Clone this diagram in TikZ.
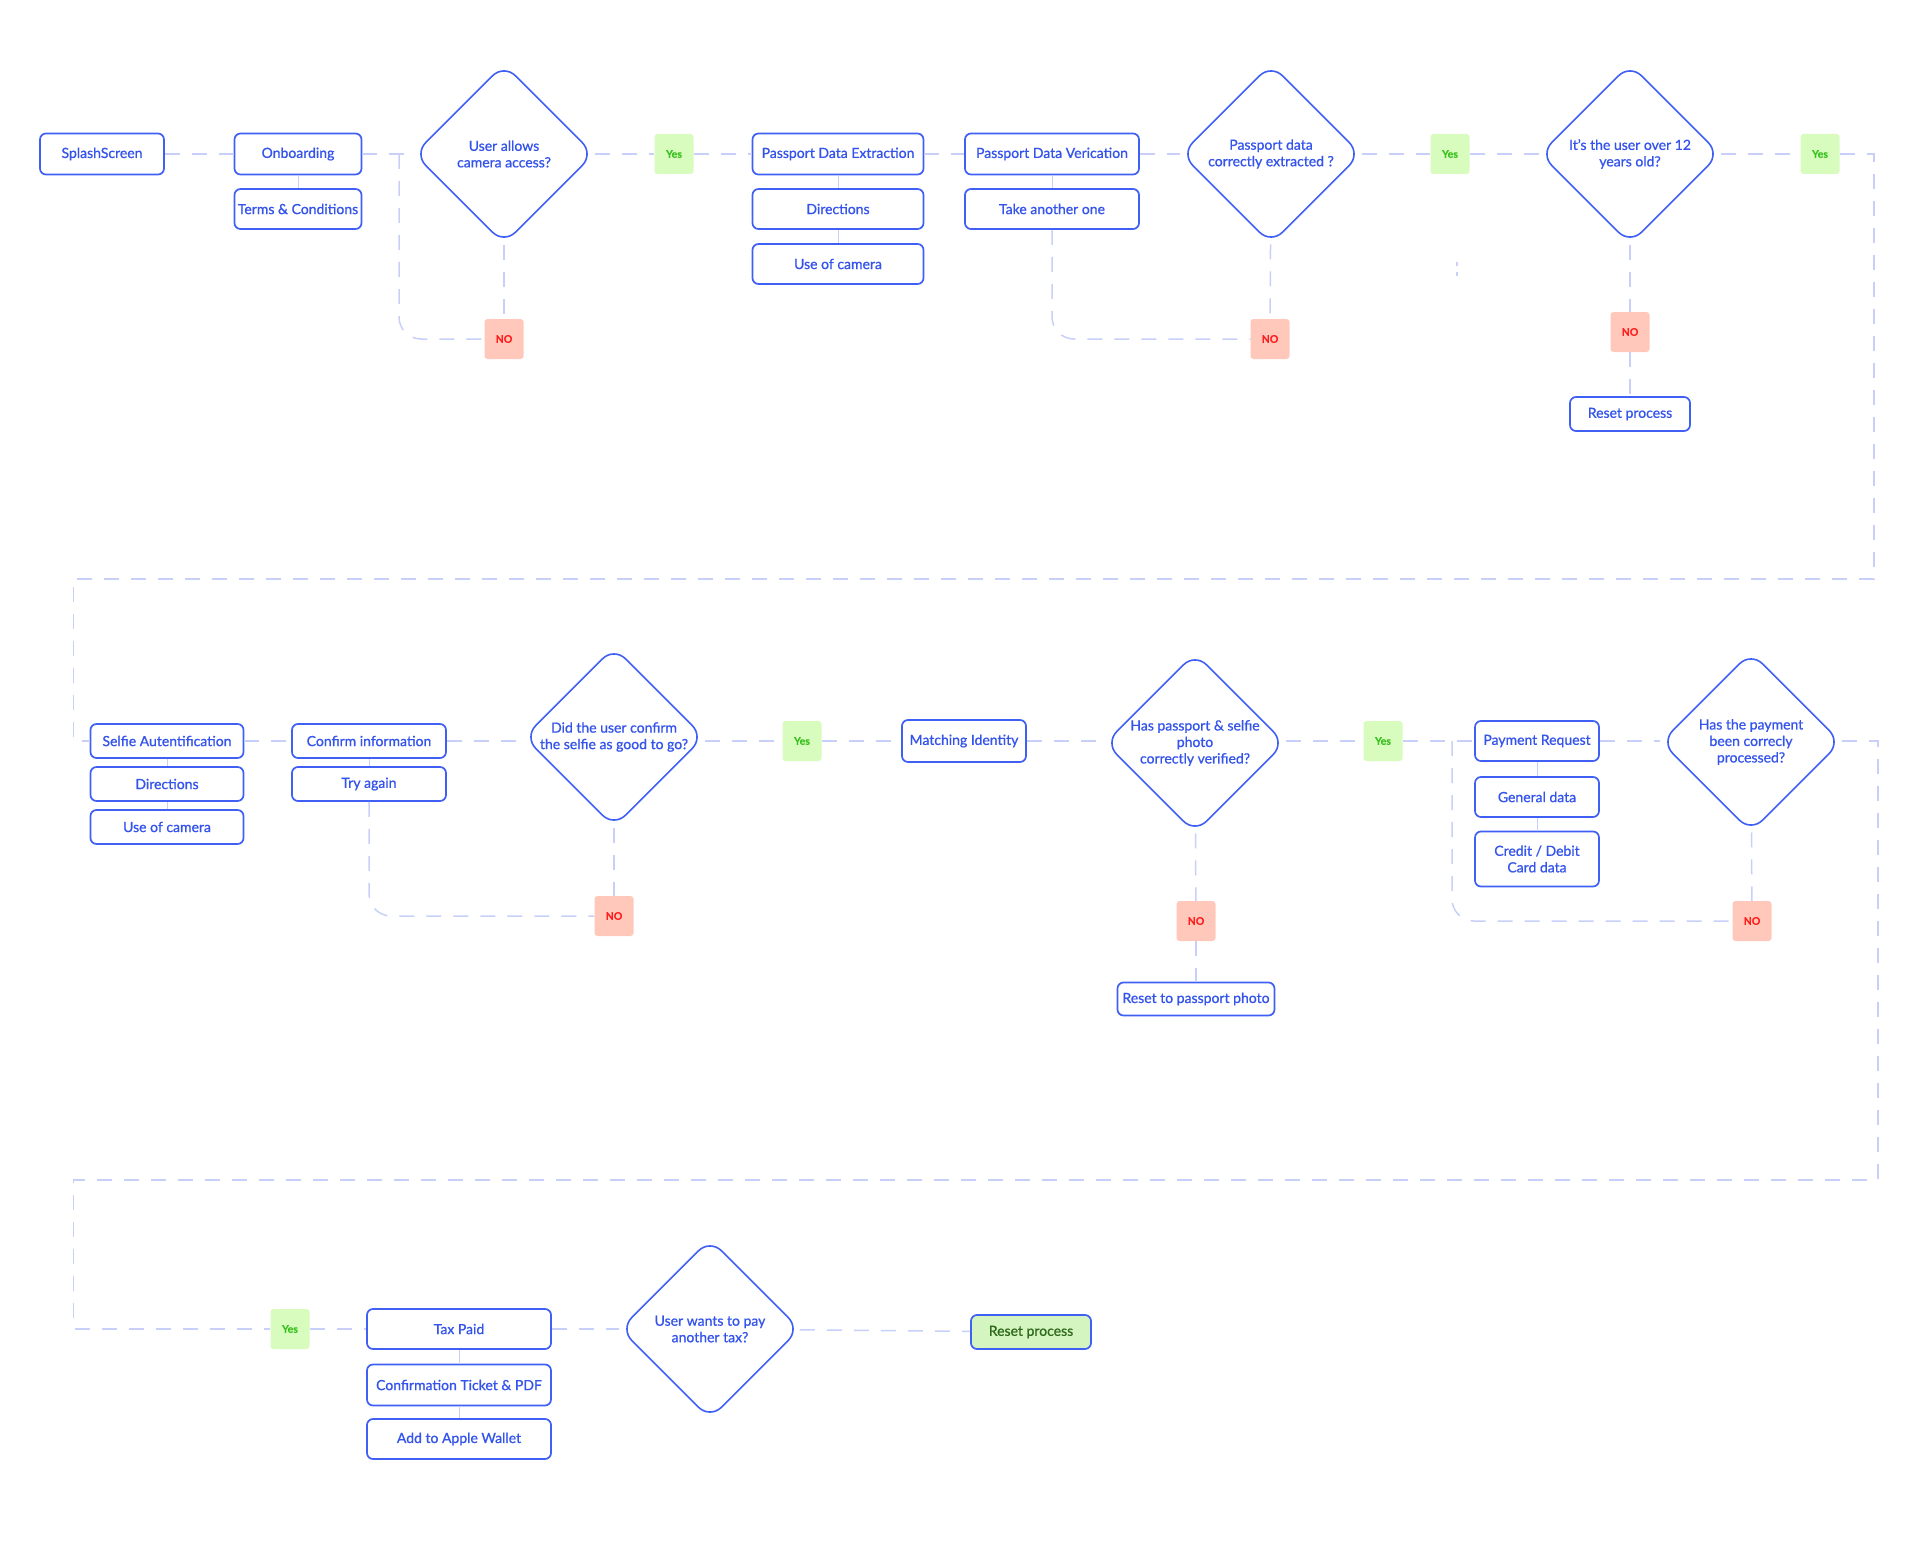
\documentclass[tikz,border=0pt]{standalone}
\usepackage{fontspec}
\setmainfont{Lato}[FakeBold=0.9]
\newfontfamily\tagfont{Lato}[FakeBold=0.3]
\usetikzlibrary{shapes.geometric}
\definecolor{bblue}{RGB}{64,96,245}
\definecolor{tblue}{RGB}{52,84,236}
\definecolor{dashc}{RGB}{200,208,250}
\definecolor{yesfill}{RGB}{216,251,190}
\definecolor{yestext}{RGB}{56,194,29}
\definecolor{nofill}{RGB}{255,200,186}
\definecolor{notext}{RGB}{255,30,30}
\definecolor{rfill}{RGB}{213,245,192}
\definecolor{rtext}{RGB}{47,106,26}
\definecolor{shadc}{RGB}{238,240,253}
\tikzset{
  base/.style={font=\fontsize{14}{16.5}\selectfont, text=tblue},
  box/.style={base, draw=bblue, line width=1.7pt, rounded corners=6pt, fill=white,
    minimum height=41, inner sep=2pt, align=center},
  dia/.style={base, shape=diamond, aspect=1, draw=bblue, line width=1.6pt, rounded corners=16pt,
    fill=white, minimum width=180, minimum height=180, inner sep=0pt, align=center},
  yestag/.style={fill=yesfill, text=yestext, font=\tagfont\bfseries\fontsize{10.5}{12}\selectfont,
    minimum width=39, minimum height=40, rounded corners=3pt, inner sep=0pt},
  notag/.style={fill=nofill, text=notext, font=\tagfont\bfseries\fontsize{10.5}{12}\selectfont,
    minimum width=39, minimum height=40, rounded corners=3pt, inner sep=0pt},
  conn/.style={draw=dashc, line width=1.5pt, dash pattern=on 15pt off 12pt},
  link/.style={draw=dashc, line width=0.8pt},
}
\begin{document}
\begin{tikzpicture}[x=1pt,y=-1pt]
\fill[white] (0,0) rectangle (1920,1557);
\useasboundingbox (0,0) rectangle (1920,1557);

% ---------- Row 1 ----------
\node[box, minimum width=124] (splash) at (102,154) {SplashScreen};
\node[box, minimum width=127] (onb) at (298,154) {Onboarding};
\node[box, minimum width=127, minimum height=40] (terms) at (298,209) {Terms \& Conditions};
\node[dia] (d1) at (504,154) {User allows\\camera access?};
\node[yestag] (yes1) at (674,154) {Yes};
\node[box, minimum width=171] (pde) at (838,154) {Passport Data Extraction};
\node[box, minimum width=171, minimum height=40] (dir1) at (838,209) {Directions};
\node[box, minimum width=171, minimum height=40] (cam1) at (838,264) {Use of camera};
\node[box, minimum width=174] (pdv) at (1052,154) {Passport Data Verication};
\node[box, minimum width=174, minimum height=40] (take) at (1052,209) {Take another one};
\node[dia] (d2) at (1271,154) {Passport data\\correctly extracted ?};
\node[yestag] (yes2) at (1450,154) {Yes};
\node[dia] (d3) at (1630,154) {It’s the user over 12\\years old?};
\node[yestag] (yes3) at (1820,154) {Yes};
\node[notag] (no1) at (504,339) {NO};
\node[notag] (no2) at (1270,339) {NO};
\node[notag] (no3) at (1630,332) {NO};
\node[box, minimum width=120, minimum height=34] (reset1) at (1630,414) {Reset process};

\coordinate (c1) at (399,154);
\coordinate (tr1) at (1874,154);
\coordinate (tr2) at (1874,579);
\coordinate (tl1) at (73.5,579);
\coordinate (tl2) at (73.5,741);

% ---------- Row 2 ----------
\node[box, minimum width=153, minimum height=34] (selfie) at (167,741) {Selfie Autentification};
\node[box, minimum width=153, minimum height=34] (dir2) at (167,784) {Directions};
\node[box, minimum width=153, minimum height=34] (cam2) at (167,827) {Use of camera};
\node[box, minimum width=154, minimum height=34] (confirm) at (369,741) {Confirm information};
\node[box, minimum width=154, minimum height=34] (tryag) at (369,784) {Try again};
\node[dia] (d4) at (614,737) {Did the user confirm\\the selfie as good to go?};
\node[yestag] (yes4) at (802,741) {Yes};
\node[box, minimum width=124, minimum height=42] (match) at (964,741) {Matching Identity};
\node[dia] (d5) at (1195,743) {Has passport \& selfie\\photo\\correctly verified?};
\node[yestag] (yes5) at (1383,741) {Yes};
\node[box, minimum width=124, minimum height=40] (pay) at (1537,741) {Payment Request};
\node[box, minimum width=124, minimum height=40] (gen) at (1537,797) {General data};
\node[box, minimum width=124, minimum height=55] (credit) at (1537,859) {Credit / Debit\\Card data};
\node[dia] (d6) at (1751,742) {Has the payment\\been correcly\\processed?};
\node[notag] (no4) at (614,916) {NO};
\node[notag] (no5) at (1196,921) {NO};
\node[box, minimum width=157, minimum height=33] (resetpp) at (1196,999) {Reset to passport photo};
\node[notag] (no6) at (1752,921) {NO};

\coordinate (c6) at (1452,741);
\coordinate (mr1) at (1878,741);
\coordinate (mr2) at (1878,1180);
\coordinate (ml1) at (73.5,1180);
\coordinate (ml2) at (73.5,1329);

% ---------- Row 3 ----------
\node[yestag] (yes6) at (290,1329) {Yes};
\node[box, minimum width=184, minimum height=40] (tax) at (459,1329) {Tax Paid};
\node[box, minimum width=184, minimum height=41] (conf) at (459,1385) {Confirmation Ticket \& PDF};
\node[box, minimum width=184, minimum height=40] (wallet) at (459,1439) {Add to Apple Wallet};
\node[dia] (d7) at (710,1329) {User wants to pay\\another tax?};
\node[box, fill=rfill, text=rtext, minimum width=120, minimum height=34] (reset2) at (1031,1332) {Reset process};

% ---------- stack links ----------
\draw[link] (onb) -- (terms);
\draw[link] (pde) -- (dir1);
\draw[link] (dir1) -- (cam1);
\draw[link] (pdv) -- (take);
\draw[link] (selfie) -- (dir2);
\draw[link] (dir2) -- (cam2);
\draw[link] (confirm) -- (tryag);
\draw[link] (pay) -- (gen);
\draw[link] (gen) -- (credit);
\draw[link] (tax) -- (conf);
\draw[link] (conf) -- (wallet);

% ---------- dashed flow ----------
\draw[conn] (splash) -- (onb);
\draw[conn] (onb) -- (d1);
\draw[conn] (d1) -- (yes1);
\draw[conn] (yes1) -- (pde);
\draw[conn] (pde) -- (pdv);
\draw[conn] (pdv) -- (d2);
\draw[conn] (d2) -- (yes2);
\draw[conn] (yes2) -- (d3);
\draw[conn] (d3) -- (yes3);
\draw[conn] (yes3) -- (tr1) -- (tr2) -- (tl1) -- (tl2) -- (selfie);
\draw[conn, rounded corners=22pt] (c1) |- (no1);
\draw[conn] (d1) -- (no1);
\draw[conn, rounded corners=22pt] (take) |- (no2);
\draw[conn] (d2) -- (no2);
\draw[conn] (d3) -- (no3);
\draw[conn] (no3) -- (reset1);
\draw[conn] (1457,262) -- (1457,266);
\draw[conn] (1457,272) -- (1457,276);

\draw[conn] (selfie) -- (confirm);
\draw[conn] (confirm) -- (confirm -| d4.west);
\draw[conn] (d4.east |- yes4) -- (yes4);
\draw[conn] (yes4) -- (match);
\draw[conn] (match) -- (match -| d5.west);
\draw[conn] (d5.east |- yes5) -- (yes5);
\draw[conn] (yes5) -- (pay);
\draw[conn] (pay) -- (pay -| d6.west);
\draw[conn] (d6.east |- mr1) -- (mr1) -- (mr2) -- (ml1) -- (ml2) -- (yes6);
\draw[conn, rounded corners=22pt] (tryag) |- (no4);
\draw[conn] (d4) -- (no4);
\draw[conn] (d5) -- (no5);
\draw[conn] (no5) -- (resetpp);
\draw[conn, rounded corners=22pt] (c6) |- (no6);
\draw[conn] (d6) -- (no6);

\draw[conn] (yes6) -- (tax);
\draw[conn] (tax) -- (d7);
\draw[conn] (d7) -- (reset2);
\end{tikzpicture}
\end{document}
